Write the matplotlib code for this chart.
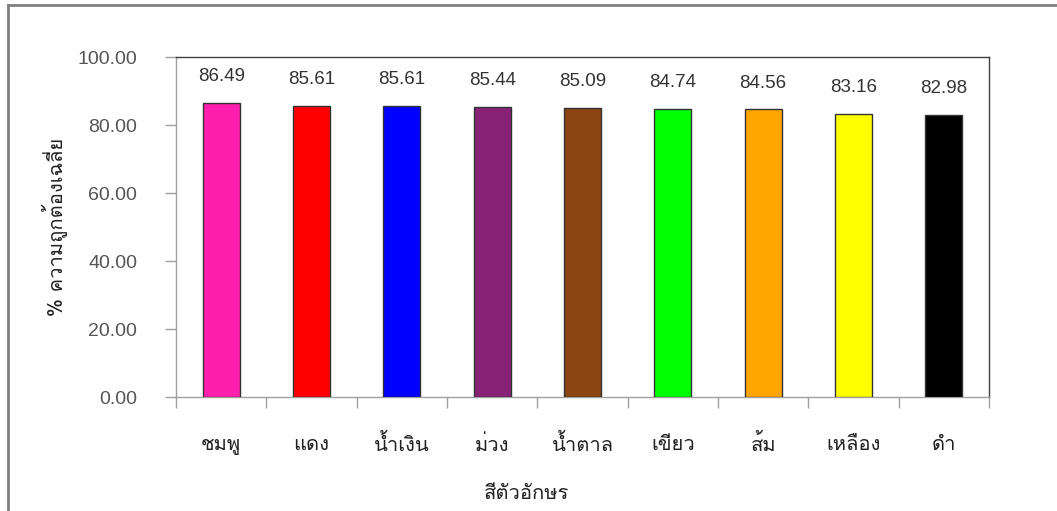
import matplotlib
matplotlib.use("Agg")
import matplotlib.pyplot as plt
from matplotlib.lines import Line2D

# average accuracy (%) by letter colour
colours_th = ["ชมพู", "แดง", "น้ำเงิน", "ม่วง", "น้ำตาล", "เขียว", "ส้ม", "เหลือง", "ดำ"]
accuracy = [86.49, 85.61, 85.61, 85.44, 85.09, 84.74, 84.56, 83.16, 82.98]
bar_colors = ["#FF1FAF", "#FF0000", "#0000FF", "#882277", "#8B4513",
              "#00FF00", "#FFA500", "#FFFF00", "#000000"]
y_ticks = [0, 20, 40, 60, 80, 100]

thai = ["Loma", "DejaVu Sans"]
num_font = "Liberation Sans"

fig = plt.figure(figsize=(10.57, 5.11), dpi=100)
ax = fig.add_axes([176 / 1057, 1 - 397 / 511, (989 - 176) / 1057, (397 - 57) / 511])

x = list(range(len(accuracy)))
ax.bar(x, accuracy, width=0.41, color=bar_colors, edgecolor="#333333", linewidth=1, zorder=3)

for xi, v in zip(x, accuracy):
    ax.annotate(f"{v:.2f}", (xi, v), xytext=(0, 19), textcoords="offset points",
                ha="center", va="center", fontsize=13.5, family=num_font, color="#333333")

ax.set_xlim(-0.5, len(accuracy) - 0.5)
ax.set_ylim(0, 100)

# major x ticks sit on category boundaries, labels go on the centres
ax.set_xticks([i - 0.5 for i in range(len(accuracy) + 1)])
ax.set_xticklabels([])
ax.tick_params(axis="x", which="major", direction="out", length=8, width=1, color="#a0a0a0")
for xi, name in zip(x, colours_th):
    ax.text(xi, -0.14, name, transform=ax.get_xaxis_transform(), ha="center", va="center",
            fontsize=14.5, family=thai, color="#222222")

ax.set_yticks(y_ticks)
ax.set_yticklabels([f"{t:.2f}" for t in y_ticks], fontsize=14, family=num_font, color="#555555")
ax.tick_params(axis="y", direction="out", length=8, width=1, color="#a0a0a0", pad=20)

for side in ("left", "bottom"):
    ax.spines[side].set_color("#a0a0a0")
for side in ("top", "right"):
    ax.spines[side].set_color("#404040")
for sp in ax.spines.values():
    sp.set_linewidth(1)

fig.text(55 / 1057, 1 - 227 / 511, "% ความถูกต้องเฉลี่ย", rotation=90, ha="center", va="center",
         fontsize=14.5, family=thai, color="#222222")
fig.text(526 / 1057, 1 - 493 / 511, "สีตัวอักษร", ha="center", va="center",
         fontsize=14.5, family=thai, color="#222222")

# outer frame (top and left edges only)
fig.add_artist(Line2D([8 / 1057, 1.0], [1 - 5 / 511, 1 - 5 / 511], color="#808080", linewidth=2,
                      transform=fig.transFigure))
fig.add_artist(Line2D([8 / 1057, 8 / 1057], [1 - 5 / 511, 0.0], color="#808080", linewidth=2,
                      transform=fig.transFigure))

fig.savefig("out.png", dpi=100)
